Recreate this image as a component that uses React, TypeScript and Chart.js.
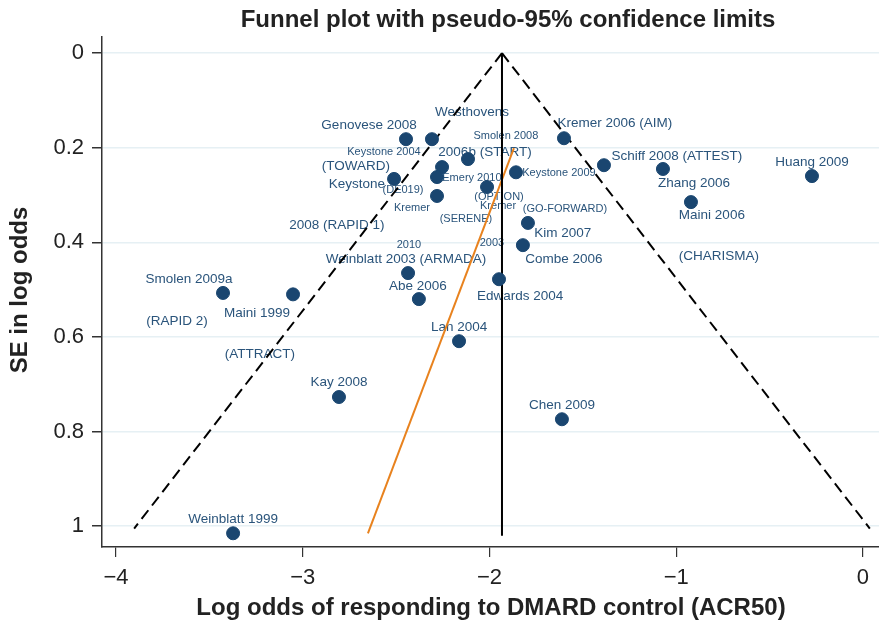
import React, { useEffect, useRef } from "react";
import { Chart, registerables } from "chart.js";

Chart.register(...registerables);

// ---- Data ----
const studyNames = [
  "Genovese 2008", "Westhovens", "Kremer 2006 (AIM)", "Keystone 2004", "2006b (START)",
  "Schiff 2008 (ATTEST)", "Zhang 2006", "Huang 2009", "Keystone 2009", "Emery 2010",
  "Keystone (DE019)", "OPTION", "Kremer (SERENE)", "Maini 2006", "GO-FORWARD",
  "Combe 2006", "Edwards 2004", "Weinblatt 2003 (ARMADA)", "Abe 2006", "Smolen 2009a",
  "Maini 1999", "Lan 2004", "Kay 2008", "Chen 2009", "Weinblatt 1999",
];
const studyLogOdds = [
  -2.447, -2.308, -1.601, -2.254, -2.115,
  -1.387, -1.071, -0.273, -1.858, -2.281,
  -2.511, -2.013, -2.281, -0.921, -1.794,
  -1.821, -1.949, -2.436, -2.378, -3.427,
  -3.052, -2.163, -2.806, -1.612, -3.373,
];
const studySE = [
  0.182, 0.182, 0.180, 0.241, 0.224,
  0.237, 0.245, 0.260, 0.252, 0.262,
  0.266, 0.283, 0.302, 0.315, 0.359,
  0.406, 0.478, 0.465, 0.520, 0.507,
  0.510, 0.609, 0.727, 0.774, 1.015,
];

const pooledEstimate = -1.933;
const funnelSE = [0, 1.005];
const pooledLineSE = [0, 1.02];
const eggerLogOdds = [-2.651, -1.869];
const eggerSE = [1.015, 0.201];

const xTicks = [-4, -3, -2, -1, 0];
const yTicks = [0, 0.2, 0.4, 0.6, 0.8, 1];

// Study label annotations (text, anchor in data units, small font flag)
const labelTexts = [
  "Westhovens", "Genovese 2008", "Kremer 2006 (AIM)", "Smolen 2008", "Keystone 2004",
  "2006b (START)", "Schiff 2008 (ATTEST)", "Huang 2009", "(TOWARD)", "Emery 2010",
  "Keystone 2009", "Zhang 2006", "Keystone", "(DE019)", "(OPTION)",
  "Kremer", "Kremer", "(GO-FORWARD)", "Maini 2006", "(SERENE)",
  "2008 (RAPID 1)", "Kim 2007", "2010", "2003", "Combe 2006",
  "Weinblatt 2003 (ARMADA)", "(CHARISMA)", "Smolen 2009a", "Abe 2006", "Edwards 2004",
  "Maini 1999", "(RAPID 2)", "Lan 2004", "(ATTRACT)", "Kay 2008",
  "Chen 2009", "Weinblatt 1999",
];
const labelX = [
  -2.094, -2.645, -1.328, -1.912, -2.565,
  -2.024, -0.996, -0.273, -2.715, -2.094,
  -1.628, -0.905, -2.710, -2.463, -1.949,
  -2.415, -1.954, -1.596, -0.809, -2.126,
  -2.817, -1.607, -2.431, -1.987, -1.601,
  -2.447, -0.771, -3.609, -2.383, -1.836,
  -3.245, -3.673, -2.163, -3.229, -2.806,
  -1.612, -3.373,
];
const labelY = [
  0.125, 0.152, 0.148, 0.175, 0.209,
  0.209, 0.218, 0.230, 0.239, 0.264,
  0.254, 0.275, 0.277, 0.290, 0.304,
  0.328, 0.323, 0.330, 0.342, 0.351,
  0.364, 0.381, 0.406, 0.402, 0.436,
  0.436, 0.429, 0.478, 0.493, 0.514,
  0.550, 0.566, 0.579, 0.636, 0.696,
  0.744, 0.985,
];
const labelSmall = [
  false, false, false, true, true,
  false, false, false, false, true,
  true, false, false, true, true,
  true, true, true, false, true,
  false, false, true, true, false,
  false, false, false, false, false,
  false, false, false, false, false,
  false, false,
];

const FONT = "'Liberation Sans', Arial, Helvetica, sans-serif";
const NAVY = "#1a4670";
const LABEL_COLOR = "#2a547b";

const annotationPlugin = {
  id: "funnelText",
  beforeDatasetsDraw(chart: any) {
    const { ctx, scales } = chart;
    const xs = scales.x;
    const ys = scales.y;
    ctx.save();
    ctx.fillStyle = LABEL_COLOR;
    ctx.textAlign = "center";
    ctx.textBaseline = "middle";
    labelTexts.forEach((t, i) => {
      ctx.font = `${labelSmall[i] ? 11 : 13.5}px ${FONT}`;
      ctx.fillText(t, xs.getPixelForValue(labelX[i]), ys.getPixelForValue(labelY[i]));
    });
    ctx.restore();
  },
  afterDraw(chart: any) {
    const { ctx, chartArea } = chart;
    ctx.save();
    ctx.fillStyle = "#222";
    ctx.textAlign = "center";
    ctx.textBaseline = "middle";
    ctx.font = `bold 24px ${FONT}`;
    ctx.fillText("Funnel plot with pseudo-95% confidence limits", 508, 20);
    ctx.font = `bold 24px ${FONT}`;
    ctx.fillText("Log odds of responding to DMARD control (ACR50)", 491, 608);
    ctx.translate(20, (chartArea.top + chartArea.bottom) / 2 - 2);
    ctx.rotate(-Math.PI / 2);
    ctx.fillText("SE in log odds", 0, 0);
    ctx.restore();
  },
};

export default function App() {
  const canvasRef = useRef<HTMLCanvasElement | null>(null);

  useEffect(() => {
    document.body.style.margin = "0";
    const canvas = canvasRef.current;
    if (!canvas) return;

    const points = studyLogOdds.map((x, i) => ({ x, y: studySE[i] }));
    const leftLimit = funnelSE.map((se) => ({ x: pooledEstimate - 1.96 * se, y: se }));
    const rightLimit = funnelSE.map((se) => ({ x: pooledEstimate + 1.96 * se, y: se }));
    const pooledLine = pooledLineSE.map((se) => ({ x: pooledEstimate, y: se }));
    const eggerLine = eggerLogOdds.map((x, i) => ({ x, y: eggerSE[i] }));

    const lineDs = (data: any, color: string, dash: number[]) => ({
      type: "line" as const,
      data,
      borderColor: color,
      borderWidth: 2,
      borderDash: dash,
      pointRadius: 0,
      showLine: true,
      fill: false,
    });

    const noPad = (s: any) => {
      s.paddingLeft = 0;
      s.paddingRight = 0;
      s.paddingTop = 0;
      s.paddingBottom = 0;
    };

    const chart = new Chart(canvas, {
      type: "scatter",
      data: {
        datasets: [
          {
            label: "Studies",
            data: points,
            backgroundColor: NAVY,
            borderColor: NAVY,
            pointRadius: 6.5,
            pointHoverRadius: 6.5,
          } as any,
          lineDs(leftLimit, "#000", [11, 6]),
          lineDs(rightLimit, "#000", [11, 6]),
          lineDs(pooledLine, "#000", []),
          lineDs(eggerLine, "#e8821e", []),
        ],
      },
      options: {
        animation: false,
        responsive: false,
        maintainAspectRatio: false,
        layout: { autoPadding: false, padding: { top: 37, right: 0, left: 0, bottom: 0 } },
        plugins: {
          legend: { display: false },
          tooltip: { enabled: false },
          title: { display: false },
        },
        scales: {
          x: {
            type: "linear",
            min: -4.075,
            max: 0.086,
            afterBuildTicks: (s: any) => {
              s.ticks = xTicks.map((v) => ({ value: v }));
            },
            afterFit: (s: any) => {
              s.height = 79;
              noPad(s);
            },
            ticks: {
              color: "#222",
              font: { family: FONT, size: 22 },
              padding: 8,
              maxRotation: 0,
              callback: (v: any) => (Number(v) === 0 ? "0" : "\u2212" + Math.abs(Number(v))),
            },
            grid: {
              drawOnChartArea: false,
              tickColor: "#333",
              tickLength: 10,
              lineWidth: 1.2,
            },
            border: { display: true, color: "#333", width: 1.5 },
          },
          y: {
            type: "linear",
            reverse: true,
            min: -0.034,
            max: 1.044,
            afterBuildTicks: (s: any) => {
              s.ticks = yTicks.map((v) => ({ value: v }));
            },
            afterFit: (s: any) => {
              s.width = 102;
              noPad(s);
            },
            ticks: {
              color: "#222",
              font: { family: FONT, size: 22 },
              padding: 8,
              callback: (v: any) => {
                const n = Number(v);
                return n === 0 ? "0" : n === 1 ? "1" : n.toFixed(1);
              },
            },
            grid: {
              drawOnChartArea: true,
              color: "#e6f0f4",
              lineWidth: 1.5,
              tickColor: "#333",
              tickLength: 10,
            },
            border: { display: true, color: "#333", width: 1.5 },
          },
        },
      },
      plugins: [annotationPlugin],
    });

    return () => chart.destroy();
  }, []);

  return (
    <div style={{ width: 879, height: 626, background: "#fff" }}>
      <canvas ref={canvasRef} width={879} height={626} style={{ display: "block" }} />
    </div>
  );
}
